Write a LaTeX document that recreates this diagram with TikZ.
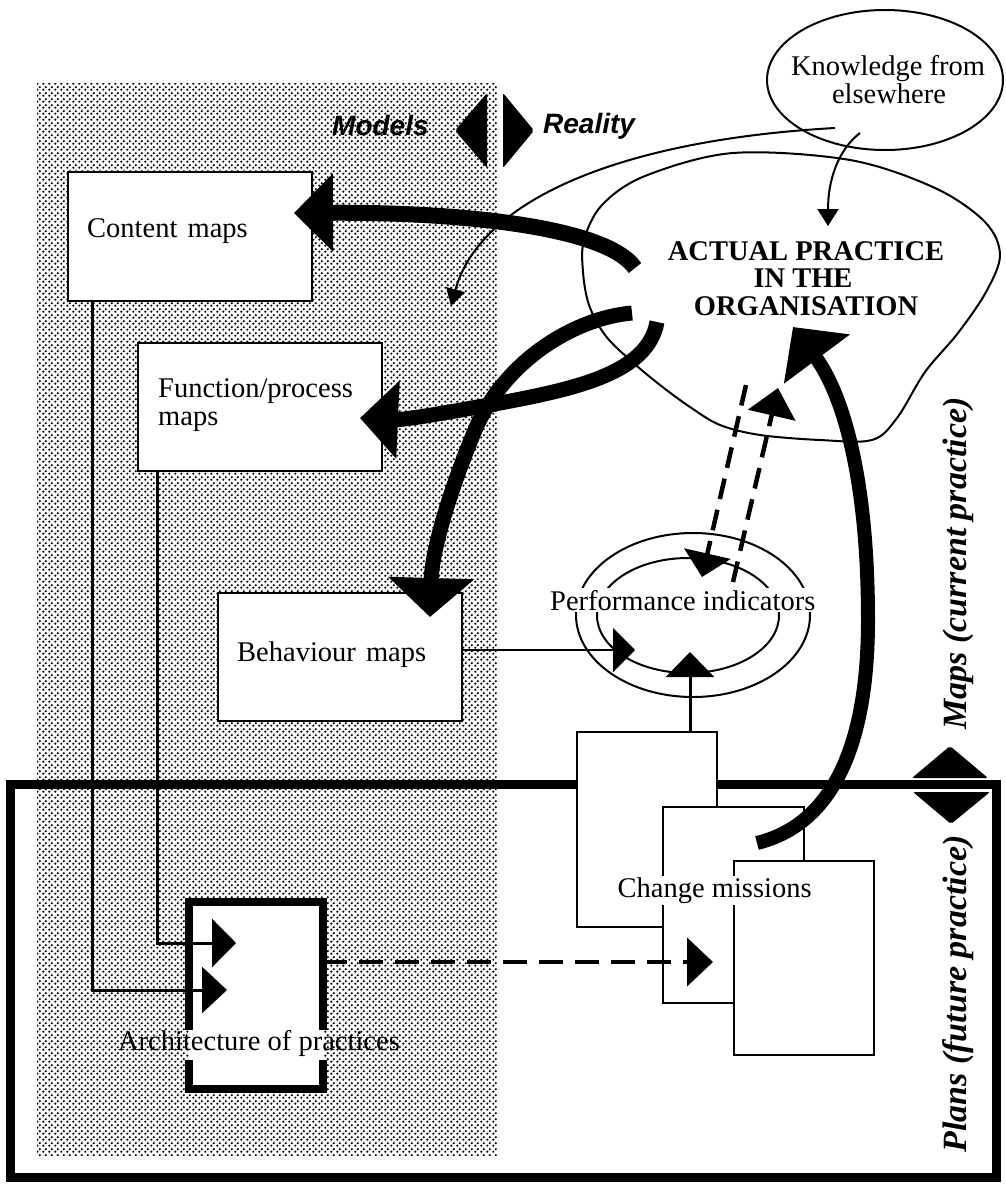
\documentclass[tikz,border=0pt]{standalone}
\usepackage{fontspec}
\setmainfont{Liberation Serif}
\newfontfamily\lsans{Liberation Sans}
\usetikzlibrary{arrows.meta,patterns.meta,shapes.geometric}
\tikzdeclarepattern{
  name=stipple,
  type=uncolored,
  bounding box={(0pt,0pt) and (6pt,6pt)},
  tile size={(6pt,6pt)},
  code={
    \fill (1.5pt,1.5pt) circle[radius=1.45pt];
    \fill (4.5pt,4.5pt) circle[radius=1.45pt];
  }
}
\begin{document}
\begin{tikzpicture}[x=1pt,y=-1pt,line join=miter]
\tikzset{
  box/.style={draw, fill=white, line width=2.5pt, inner sep=0pt},
  lbl/.style={inner sep=0pt, font=\fontsize{28.5}{30}\selectfont},
  blbl/.style={inner sep=0pt, font=\fontsize{28.5}{30}\selectfont\bfseries},
  sidelbl/.style={inner sep=0pt, rotate=90, anchor=base, font=\fontsize{34}{36}\selectfont\bfseries\itshape},
  mrlbl/.style={inner sep=0pt, anchor=base west, font=\fontsize{28}{30}\selectfont\lsans\bfseries\itshape},
  thinline/.style={line width=2pt},
  conn/.style={line width=3pt},
  thickarr/.style={line width=15pt},
  dashline/.style={line width=4.5pt, dash pattern=on 21pt off 11pt},
}
\useasboundingbox (0,0) rectangle (1006,1189);
\fill[white] (0,0) rectangle (1006,1189);

% stippled "models" region
\fill[pattern=stipple, pattern color=black] (37,83) rectangle (497,1155);

% plans frame
\node[draw, line width=9pt, minimum width=986pt, minimum height=393pt, inner sep=0pt] (plans) at (503,980.5) {};

% model boxes
\node[box, minimum width=244pt, minimum height=129pt] (cm) at (190,236.5) {};
\node[box, minimum width=244pt, minimum height=128pt] (fp) at (260,407) {};
\node[box, minimum width=244pt, minimum height=128pt] (bm) at (340,657) {};

% architecture box (thick, gap where text runs through)
\node[fill=white, minimum width=134pt, minimum height=187pt, inner sep=0pt] (arch) at (256,995.5) {};
\draw[line width=8pt] (arch.west |- 0,1030) -- (arch.north west) -- (arch.north east) -- (arch.east |- 0,1030);
\draw[line width=8pt] (arch.west |- 0,1060) -- (arch.south west) -- (arch.south east) -- (arch.east |- 0,1060);

% connectors into architecture
\coordinate (a1) at (227,990);
\coordinate (a2) at (236,943);
\draw[conn, -{Triangle[length=25pt,width=46pt]}] (cm.south -| 92,0) |- (a1);
\draw[conn, -{Triangle[length=24pt,width=48pt]}] (fp.south -| 157,0) |- (a2);

% change missions boxes
\node[box, minimum width=140pt, minimum height=195pt] (cm1) at (647,829.5) {};
\node[box, minimum width=141pt, minimum height=196pt] (cm2) at (733.5,905) {};
\node[box, minimum width=140pt, minimum height=194pt] (cm3) at (804,958) {};

% dashed architecture -> change missions
\coordinate (cmin) at (713,962);
\draw[dashline, dash pattern=on 24pt off 12pt, -{Triangle[length=26pt,width=48pt]}] (arch.east |- 0,962) -- (cmin);

% performance indicators
\draw[thinline] (693,615) ellipse [x radius=117, y radius=82];
\draw[thinline] (688,615.5) ellipse [x radius=91, y radius=57.5];
\coordinate (pin1) at (635,650);
\coordinate (pin2) at (690,652);
\draw[line width=2.5pt, -{Triangle[length=22pt,width=44pt]}] (bm.east |- 0,650) -- (pin1);
\draw[conn, -{Triangle[length=25pt,width=48pt]}] (cm1.north -| 690,0) -- (pin2);

% actual practice blob
\draw[thinline] plot[smooth cycle, tension=0.55] coordinates {
  (584,240) (602,205) (645,176) (733,153) (850,160) (935,188) (985,222)
  (1000,255) (986,292) (958,333) (925,372) (897,418) (872,440) (820,440)
  (760,435) (720,425) (690,407) (660,385) (630,360) (605,335) (589,305) (583,272)};

% dashed indicator links
\coordinate (dA1) at (746,385);
\coordinate (dA2) at (702,577);
\coordinate (dB1) at (733,582);
\coordinate (dB2) at (778,388);
\draw[dashline, -{Triangle[length=24pt,width=47pt]}] (dA1) -- (dA2);
\draw[dashline, -{Triangle[length=28pt,width=48pt]}] (dB1) -- (dB2);

\node[lbl, anchor=base west, fill=white, inner sep=1.5pt] (pi) at (548.5,610) {Performance indicators};

% knowledge from elsewhere
\node[draw, ellipse, line width=2pt, minimum width=236pt, minimum height=140pt, inner sep=0pt] (know) at (885,80) {};
\node[lbl, anchor=base] (k1t) at (888,75) {Knowledge from};
\node[lbl, anchor=base] (k2t) at (889,103) {elsewhere};
\coordinate (ks1) at (835,128);
\coordinate (ke1) at (451,306);
\coordinate (ks2) at (860,133);
\coordinate (ke2) at (828,226);
\draw[thinline, -{Triangle[length=17pt,width=19pt]}] (ks1) .. controls (620,140) and (480,200) .. (ke1);
\draw[thinline, -{Triangle[length=17pt,width=21pt]}] (ks2) .. controls (838,150) and (828,180) .. (ke2);

% thick arrows
\coordinate (t1s) at (635,268);
\coordinate (t1e) at (294,213);
\draw[thickarr, line width=16pt, -{Triangle[length=39pt,width=76pt]}] (t1s) .. controls (605,225) and (450,212) .. (t1e);
\coordinate (t2s) at (657,322);
\coordinate (t2m) at (500,403);
\coordinate (t2e) at (360,418);
\draw[thickarr, -{Triangle[length=38pt,width=76pt]}] (t2s) .. controls (648,372) and (580,388) .. (t2m) .. controls (450,412) and (405,420) .. (t2e);
\coordinate (t3s) at (632,313);
\coordinate (t3m) at (475,430);
\coordinate (t3e) at (430,617);
\draw[thickarr, -{Triangle[length=39pt,width=84pt]}] (t3s) .. controls (575,318) and (505,360) .. (t3m) .. controls (450,490) and (432,550) .. (t3e);
\coordinate (t4s) at (757,843);
\coordinate (t4m) at (868,620);
\coordinate (t4e) at (793,327);
\draw[thickarr, line width=14pt, -{Triangle[length=40pt,width=80pt]}] (t4s) .. controls (830,825) and (868,750) .. (t4m) .. controls (868,470) and (840,390) .. (t4e);

% labels
\node[lbl, anchor=base west] (cmt) at (87,237) {Content\hspace{3pt} maps};
\node[lbl, anchor=base west] (fpt1) at (158,397) {Function/process};
\node[lbl, anchor=base west] (fpt2) at (158,425) {maps};
\node[lbl, anchor=base west] (bmt) at (237,661) {Behaviour\hspace{3pt} maps};
\node[lbl, anchor=base] (archt) at (259,1050) {Architecture of practices};
\node[lbl, anchor=base west, fill=white, inner sep=1.5pt] (cmtx) at (616,897) {Change missions};
\node[blbl, anchor=base] (ap1) at (806,260) {ACTUAL PRACTICE};
\node[blbl, anchor=base] (ap2) at (803,287) {IN THE};
\node[blbl, anchor=base] (ap3) at (806,315) {ORGANISATION};

\node[mrlbl] (models) at (332,135) {Models};
\node[mrlbl] (reality) at (543,133) {Reality};
\fill[rounded corners=2pt] (487,93) -- (455,130.5) -- (487,168) -- cycle;
\fill[rounded corners=2pt] (503,93) -- (534,130.5) -- (503,168) -- cycle;

\node[sidelbl] (mapsl) at (966,563.5) {Maps (current practice)};
\node[sidelbl] (plansl) at (966,994) {Plans (future practice)};
\fill[rounded corners=2pt] (912,778) -- (950,746) -- (988,778) -- cycle;
\fill[rounded corners=2pt] (913,792) -- (951,824) -- (990,792) -- cycle;
\end{tikzpicture}
\end{document}
